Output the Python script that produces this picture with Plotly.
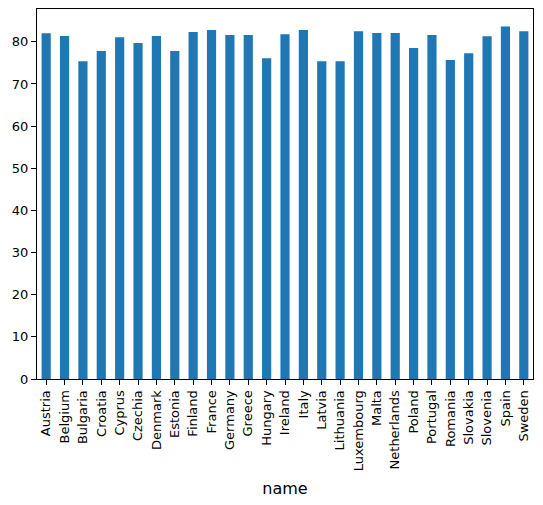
import plotly.graph_objects as go

# country names on the x axis and their values
names = ["Austria", "Belgium", "Bulgaria", "Croatia", "Cyprus", "Czechia", "Denmark",
         "Estonia", "Finland", "France", "Germany", "Greece", "Hungary", "Ireland",
         "Italy", "Latvia", "Lithuania", "Luxembourg", "Malta", "Netherlands", "Poland",
         "Portugal", "Romania", "Slovakia", "Slovenia", "Spain", "Sweden"]
values = [82.0, 81.4, 75.4, 77.8, 81.1, 79.7, 81.4,
          77.8, 82.3, 82.8, 81.6, 81.6, 76.1, 81.8,
          82.8, 75.4, 75.4, 82.5, 82.1, 82.1, 78.5,
          81.6, 75.7, 77.3, 81.3, 83.6, 82.5]
y_ticks = [0, 10, 20, 30, 40, 50, 60, 70, 80]

fig = go.Figure(go.Bar(x=names, y=values, marker_color="#1f77b4", marker_line_width=0))

axis_style = dict(showline=True, linecolor="black", linewidth=1, mirror=True,
                  ticks="outside", ticklen=5, tickcolor="black", showgrid=False,
                  zeroline=False, tickfont=dict(family="DejaVu Sans", size=13, color="black"))

# the page keeps the browser's 8px body margin, so the figure is 8px smaller each way
fig.update_layout(
    width=535, height=497,
    margin=dict(l=29, r=10, t=1, b=126),
    plot_bgcolor="white", paper_bgcolor="white",
    bargap=0.5, showlegend=False,
    font=dict(family="DejaVu Sans", size=13, color="black"),
)
fig.update_xaxes(tickangle=-90, title=dict(text="name", standoff=12), **axis_style)
fig.update_yaxes(range=[0, max(values) * 1.05], tickvals=y_ticks, **axis_style)

fig.write_html("out.html")
